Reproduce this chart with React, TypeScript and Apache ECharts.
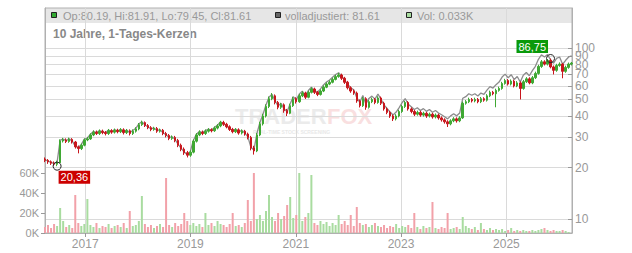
import React, { useEffect, useRef } from "react";
import * as echarts from "echarts";

// ---- data (3-weekly samples) ----
const startYear = 2016;
const startMonth = 2; // March (0-based)
const startDay = 28;
const stepDays = 21;
const axisStart = [2016, 2, 28];
const axisEnd = [2026, 3, 1];
const yearTicks = [2017, 2019, 2021, 2023, 2025];
const priceTicks = [10, 20, 30, 40, 50, 60, 70, 80, 90, 100];
const priceLabelsMain = [10, 20, 30, 40, 50, 60, 70, 80, 100];
const priceLabelsExtra = [90];
const volumeTicks = [0, 20, 40, 60];
const priceMin = 8.28;
const priceMax = 171.3;
const volumeMax = 225;
const firstOpen = 22.4;

const closes = [
  22.0, 21.6, 21.2, 20.9, 21.3, 28.6, 29.0, 28.4, 29.2, 28.2,
  26.4, 25.8, 27.0, 29.0, 29.4, 31.0, 32.2, 31.6, 32.6, 32.0,
  31.6, 32.8, 32.2, 33.0, 32.4, 33.2, 32.0, 32.8, 31.6, 32.6,
  33.6, 35.6, 36.6, 35.2, 34.2, 33.4, 33.8, 32.6, 33.0, 31.6,
  30.8, 29.6, 30.0, 28.8, 27.0, 25.6, 24.4, 23.6, 24.6, 28.5,
  31.0, 32.2, 31.6, 32.6, 33.2, 32.8, 34.0, 35.0, 36.6, 35.8,
  34.6, 33.4, 32.4, 33.2, 31.8, 32.6, 31.4, 30.0, 26.0, 25.0,
  31.0, 36.0, 40.0, 45.5, 50.5, 52.5, 48.0, 45.0, 46.5, 43.0,
  41.5, 46.0, 50.5, 48.5, 52.5, 54.5, 51.5, 55.0, 57.5, 55.0,
  53.5, 56.0, 59.0, 61.5, 63.0, 65.5, 68.0, 69.5, 66.5, 63.0,
  58.5, 56.0, 54.5, 49.0, 46.0, 50.5, 45.0, 48.5, 50.0, 48.0,
  51.0, 47.5, 44.0, 42.0, 40.0, 38.5, 40.0, 42.5, 45.5, 48.0,
  44.0, 42.5, 41.0, 42.0, 40.5, 41.5, 40.0, 41.0, 39.5, 40.5,
  39.0, 38.0, 37.0, 36.0, 37.5, 38.5, 37.5, 39.0, 47.5, 48.5,
  50.0, 49.0, 50.0, 48.5, 50.5, 49.5, 52.5, 55.0, 54.0, 56.5,
  58.0, 62.0, 64.5, 61.5, 64.0, 60.0, 62.5, 58.0, 63.5, 66.0,
  62.5, 67.0, 71.0, 78.0, 83.0, 80.5, 84.5, 77.5, 74.0, 79.0,
  80.5, 73.0, 77.0, 80.5, 81.61,
];

const highs = [
  22.9, 22.4, 22.0, 21.7, 21.9, 29.2, 29.8, 29.6, 29.9, 29.7,
  28.6, 26.9, 27.6, 29.6, 30.2, 31.7, 33.0, 32.9, 33.4, 33.3,
  32.7, 33.6, 33.5, 33.8, 33.7, 34.0, 33.9, 33.6, 33.4, 33.4,
  34.4, 36.4, 37.6, 37.2, 35.9, 34.9, 34.6, 34.5, 33.8, 33.6,
  32.3, 31.4, 30.8, 30.6, 29.4, 27.6, 26.2, 25.0, 25.2, 29.2,
  31.8, 33.0, 32.9, 33.4, 34.0, 33.9, 34.8, 35.9, 37.5, 37.5,
  36.5, 35.3, 34.1, 34.0, 33.9, 33.4, 33.2, 32.0, 30.6, 26.8,
  31.8, 37.0, 41.2, 46.8, 52.0, 54.5, 53.5, 49.0, 47.8, 47.4,
  44.0, 47.2, 51.8, 51.5, 53.8, 55.8, 55.5, 56.3, 58.9, 58.6,
  56.1, 57.3, 60.4, 62.9, 64.5, 67.0, 69.6, 71.5, 70.8, 67.8,
  64.2, 59.7, 57.2, 55.6, 50.0, 51.7, 51.5, 49.6, 51.2, 51.0,
  52.2, 52.0, 48.5, 44.9, 42.9, 40.8, 41.0, 43.5, 46.5, 49.0,
  48.9, 44.9, 43.4, 43.0, 42.9, 42.4, 42.3, 41.9, 41.8, 41.4,
  41.3, 39.8, 38.8, 37.8, 38.3, 39.4, 39.3, 39.9, 48.6, 49.6,
  51.2, 51.0, 51.2, 51.0, 51.7, 51.5, 53.7, 56.3, 56.1, 57.8,
  59.4, 63.4, 66.0, 65.8, 65.5, 65.3, 64.0, 63.8, 65.0, 67.5,
  67.4, 68.6, 72.7, 79.8, 85.0, 84.8, 86.2, 86.75, 79.0, 80.8,
  82.4, 81.5, 78.8, 82.2, 82.8,
];

const lows = [
  21.5, 21.0, 20.7, 20.5, 20.36, 21.2, 28.0, 27.8, 27.9, 27.6,
  25.8, 24.2, 25.3, 26.6, 28.5, 29.0, 30.5, 31.0, 31.0, 31.3,
  30.8, 31.0, 31.5, 31.6, 31.7, 31.8, 31.2, 31.4, 30.8, 31.0,
  32.0, 33.0, 35.0, 34.5, 33.5, 32.6, 32.8, 31.9, 32.0, 30.9,
  30.0, 28.9, 29.0, 28.1, 26.3, 24.9, 23.7, 22.9, 23.1, 24.2,
  28.0, 30.5, 30.9, 31.0, 32.0, 32.1, 32.3, 33.4, 34.4, 35.0,
  33.9, 32.7, 31.7, 31.8, 31.1, 31.2, 30.7, 29.2, 25.2, 23.8,
  24.6, 30.5, 35.2, 39.2, 44.5, 49.5, 46.8, 43.8, 44.0, 41.8,
  40.0, 41.0, 45.2, 47.3, 47.8, 51.6, 50.3, 50.8, 54.2, 53.8,
  52.3, 52.7, 55.2, 58.2, 60.6, 62.1, 64.6, 67.0, 65.0, 61.6,
  57.2, 54.7, 53.2, 47.8, 44.9, 45.2, 43.5, 44.2, 47.6, 46.9,
  47.2, 46.4, 43.0, 41.0, 39.0, 37.4, 37.7, 39.3, 41.7, 44.6,
  43.0, 41.5, 40.0, 40.2, 39.6, 39.7, 39.0, 39.2, 38.6, 38.7,
  38.1, 37.1, 36.1, 34.5, 35.3, 36.8, 36.6, 36.8, 38.5, 46.6,
  47.6, 48.0, 48.1, 47.5, 47.6, 48.5, 48.6, 51.6, 52.9, 45.0,
  55.5, 57.0, 61.0, 60.3, 60.4, 58.8, 59.0, 50.0, 57.0, 62.4,
  61.3, 61.4, 65.8, 69.8, 76.5, 79.0, 79.0, 76.0, 70.0, 72.6,
  77.6, 66.5, 71.6, 75.6, 79.0,
];

const adjusted = [
  22.2, 21.8, 21.4, 21.1, 21.5, 28.9, 29.3, 28.7, 29.5, 28.5,
  26.7, 26.1, 27.3, 29.3, 29.7, 31.3, 32.5, 31.9, 32.9, 32.3,
  31.9, 33.1, 32.5, 33.3, 32.7, 33.5, 32.3, 33.1, 31.9, 32.9,
  33.9, 36.0, 37.0, 35.6, 34.5, 33.7, 34.1, 32.9, 33.3, 31.9,
  31.1, 29.9, 30.3, 29.1, 27.3, 25.9, 24.6, 23.8, 24.8, 28.8,
  31.3, 32.5, 31.9, 32.9, 33.5, 33.1, 34.3, 35.4, 37.0, 36.2,
  35.0, 33.8, 32.8, 33.6, 32.2, 33.0, 31.8, 30.3, 26.3, 25.3,
  31.6, 36.7, 40.8, 46.4, 51.5, 53.6, 49.0, 45.9, 47.4, 43.9,
  42.5, 47.2, 51.8, 49.7, 53.8, 55.9, 52.8, 56.4, 58.9, 56.4,
  55.1, 57.7, 60.8, 63.3, 64.9, 67.5, 70.0, 71.6, 68.5, 64.9,
  61.1, 58.5, 57.0, 51.2, 48.1, 52.8, 47.0, 50.7, 52.3, 50.2,
  53.8, 50.1, 46.4, 44.3, 42.2, 40.6, 42.2, 44.8, 48.0, 50.6,
  46.9, 45.3, 43.7, 44.7, 43.1, 44.2, 42.6, 43.7, 42.1, 43.1,
  41.7, 40.7, 39.6, 38.5, 40.1, 41.2, 40.1, 41.7, 50.8, 51.9,
  54.0, 52.9, 54.0, 52.4, 54.5, 53.5, 56.7, 59.4, 58.3, 61.0,
  63.2, 67.6, 70.3, 67.0, 69.8, 65.4, 68.1, 63.2, 69.2, 71.9,
  68.8, 73.7, 78.1, 85.8, 91.3, 88.6, 91.5, 85.3, 81.4, 86.9,
  88.6, 80.3, 84.7, 88.6, 89.8,
];

const volumesK = [
  6, 8, 5, 9, 7, 25, 12, 6, 8, 5,
  38, 10, 7, 9, 34, 8, 6, 10, 5, 7,
  6, 9, 5, 7, 8, 6, 10, 5, 22, 7,
  8, 12, 37, 9, 6, 8, 5, 7, 9, 6,
  55, 8, 6, 10, 7, 9, 20, 12, 8, 10,
  7, 9, 6, 20, 8, 10, 7, 12, 9, 8,
  6, 9, 20, 7, 8, 6, 10, 33, 12, 60,
  14, 18, 12, 22, 38, 16, 12, 20, 14, 17,
  28, 36, 15, 18, 60, 12, 16, 20, 58, 10,
  8, 12, 9, 11, 7, 10, 8, 18, 9, 12,
  8, 18, 7, 26, 10, 8, 9, 6, 8, 10,
  7, 6, 8, 5, 7, 6, 9, 5, 7, 6,
  8, 5, 20, 6, 4, 7, 5, 6, 31, 5,
  4, 6, 5, 20, 4, 5, 6, 4, 16, 7,
  5, 4, 6, 3, 10, 4, 3, 5, 3, 4,
  3, 4, 2, 3, 5, 2, 3, 2, 3, 2,
  2, 3, 2, 3, 4, 5, 3, 2, 3, 2,
  2, 3, 2, 1, 0.033,
];

const lowMark = { index: 4, value: 20.36, label: "20,36" };
const highMark = { index: 167, value: 86.75, label: "86,75" };

const titleText = "10 Jahre, 1-Tages-Kerzen";
const legendOhlc = "Op:80.19, Hi:81.91, Lo:79.45, Cl:81.61";
const legendAdj = "volladjustiert: 81.61";
const legendVol = "Vol: 0.033K";

const FONT = "'Liberation Sans', Arial, sans-serif";
const UP = "#3fa833";
const DOWN = "#c8161d";
const VOL_UP = "#a9dca0";
const VOL_DOWN = "#f2a1a9";
const GRID_LINE = "#dadada";
const AXIS_LINE = "#b0b0b0";
const LABEL = "#999999";

export default function App() {
  const ref = useRef<HTMLDivElement>(null);

  useEffect(() => {
    if (!ref.current) return;
    const chart = echarts.init(ref.current, null, { renderer: "svg" });

    const times = closes.map((_, i) =>
      new Date(startYear, startMonth, startDay + i * stepDays).getTime()
    );
    const opens = closes.map((c, i) => (i === 0 ? firstOpen : closes[i - 1]));
    const candleData = times.map((t, i) => [t, opens[i], closes[i], lows[i], highs[i]]);
    const adjData = times.map((t, i) => [t, adjusted[i]]);
    const volData = times.map((t, i) => ({
      value: [t, volumesK[i]],
      itemStyle: { color: closes[i] >= opens[i] ? VOL_UP : VOL_DOWN },
    }));
    const yearTs = yearTicks.map((y) => new Date(y, 0, 1).getTime());
    const xMin = new Date(axisStart[0], axisStart[1], axisStart[2]).getTime();
    const xMax = new Date(axisEnd[0], axisEnd[1], axisEnd[2]).getTime();

    const textEl = (text: string, x: number, y: number, extra: any = {}) => ({
      type: "text",
      x,
      y,
      silent: true,
      style: {
        text,
        fill: LABEL,
        font: `11px ${FONT}`,
        textVerticalAlign: "middle",
        verticalAlign: "middle",
        ...extra,
      },
    });
    const square = (x: number, fill: string) => ({
      type: "rect",
      silent: true,
      shape: { x: x + 0.5, y: 12.5, width: 5, height: 5 },
      style: { fill, stroke: "#222", lineWidth: 1 },
    });
    const priceLabel = {
      color: LABEL,
      fontSize: 12,
      lineHeight: 7,
      fontFamily: FONT,
      margin: 3,
      showMinLabel: true,
      showMaxLabel: true,
      hideOverlap: false,
    };

    chart.setOption({
      animation: false,
      grid: {
        left: 45,
        right: 60,
        top: 8,
        bottom: 20,
        show: true,
        borderColor: AXIS_LINE,
        borderWidth: 1,
        backgroundColor: "transparent",
      },
      graphic: [
        {
          type: "rect",
          z: -10,
          silent: true,
          shape: { x: 45, y: 8, width: 527, height: 15 },
          style: { fill: "#e6e6e6" },
        },
        {
          type: "group",
          z: -10,
          silent: true,
          children: [
            textEl("TRADER", 235, 116, { fill: "#ebebeb", font: `bold 22px ${FONT}` }),
            textEl("FOX", 327, 116, { fill: "#f9dfe0", font: `bold 22px ${FONT}` }),
            textEl("REAL-TIME STOCK SCREENING", 253, 132, {
              fill: "#e8e8e8",
              font: `bold 5px ${FONT}`,
            }),
          ],
        },
        square(51, "#33aa33"),
        textEl(legendOhlc, 63, 16),
        square(275, "#666666"),
        textEl(legendAdj, 285, 16),
        square(406, VOL_UP),
        textEl(legendVol, 417, 16),
        textEl(titleText, 53, 33.5, { fill: "#888888", font: `bold 12px ${FONT}` }),
      ],
      xAxis: {
        type: "value",
        min: xMin,
        max: xMax,
        axisLine: { show: true, lineStyle: { color: AXIS_LINE } },
        axisTick: {
          show: true,
          length: 4,
          customValues: yearTs,
          lineStyle: { color: LABEL },
        },
        axisLabel: {
          customValues: yearTs,
          formatter: (v: number) => String(new Date(v).getFullYear()),
          color: LABEL,
          fontSize: 12,
          fontFamily: FONT,
          margin: 5,
        },
        splitLine: { show: true, lineStyle: { color: GRID_LINE, width: 1 } },
      },
      yAxis: [
        {
          type: "log",
          logBase: 10,
          position: "right",
          min: priceMin,
          max: priceMax,
          axisLine: { show: true, lineStyle: { color: AXIS_LINE } },
          axisTick: {
            show: true,
            inside: true,
            length: 4,
            customValues: priceTicks,
            lineStyle: { color: LABEL },
          },
          axisLabel: { ...priceLabel, customValues: priceLabelsMain },
          splitLine: { show: true, lineStyle: { color: GRID_LINE, width: 1 } },
        },
        {
          type: "value",
          position: "left",
          min: 0,
          max: volumeMax,
          axisLine: { show: true, lineStyle: { color: AXIS_LINE } },
          axisTick: {
            show: true,
            length: 4,
            customValues: volumeTicks,
            lineStyle: { color: LABEL },
          },
          axisLabel: {
            customValues: volumeTicks,
            showMinLabel: true,
            showMaxLabel: true,
            formatter: "{value}K",
            color: LABEL,
            fontSize: 11,
            fontFamily: FONT,
            margin: 6,
          },
          splitLine: { show: false },
        },
        {
          type: "log",
          logBase: 10,
          position: "right",
          offset: 0,
          min: priceMin,
          max: priceMax,
          axisLine: { show: false },
          axisTick: { show: false },
          axisLabel: { ...priceLabel, customValues: priceLabelsExtra },
          splitLine: { show: false },
        },
      ],
      series: [
        {
          type: "bar",
          name: "Vol",
          yAxisIndex: 1,
          barWidth: 2,
          z: 1,
          data: volData,
        },
        {
          type: "line",
          name: "volladjustiert",
          yAxisIndex: 0,
          z: 2,
          symbol: "none",
          lineStyle: { color: "#8c8c8c", width: 1.3 },
          data: adjData,
        },
        {
          type: "candlestick",
          name: "Kurs",
          yAxisIndex: 0,
          z: 3,
          barWidth: 2,
          encode: { x: 0, y: [1, 2, 3, 4] },
          itemStyle: {
            color: UP,
            color0: DOWN,
            borderColor: UP,
            borderColor0: DOWN,
            borderWidth: 1,
          },
          data: candleData,
          markPoint: {
            symbol: "circle",
            symbolSize: 8,
            itemStyle: { color: "rgba(0,0,0,0)", borderColor: "#222", borderWidth: 1 },
            data: [
              {
                coord: [times[lowMark.index], lowMark.value],
                label: {
                  show: true,
                  formatter: lowMark.label,
                  position: [6, 9],
                  align: "left",
                  verticalAlign: "top",
                  color: "#fff",
                  fontSize: 11,
                  fontFamily: FONT,
                  lineHeight: 11,
                  backgroundColor: "#cc0000",
                  padding: [1, 2, 1, 2],
                },
              },
              {
                coord: [times[highMark.index], highMark.value],
                label: {
                  show: true,
                  formatter: highMark.label,
                  position: [2, -1],
                  align: "right",
                  verticalAlign: "bottom",
                  color: "#fff",
                  fontSize: 11,
                  fontFamily: FONT,
                  lineHeight: 11,
                  backgroundColor: "#0a9a0a",
                  padding: [1, 2, 1, 2],
                },
              },
            ],
          },
        },
      ],
    });

    return () => chart.dispose();
  }, []);

  return (
    <div
      ref={ref}
      style={{ position: "absolute", left: 0, top: 0, width: 632, height: 253 }}
    />
  );
}
